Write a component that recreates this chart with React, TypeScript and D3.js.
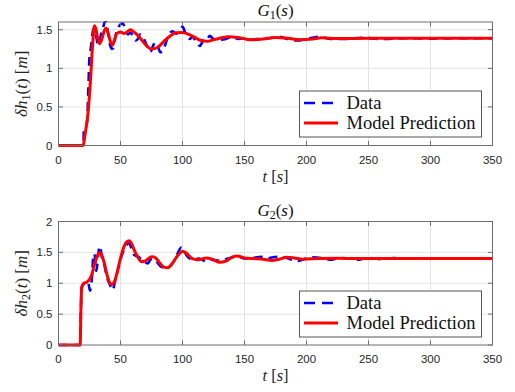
import React from "react";
import * as d3 from "d3";

// ---- Step response data, panel 1: G1(s) ----
const g1DataT = [0, 20, 20.5, 22, 23, 24, 25, 26, 27, 28, 29, 30, 31, 32, 33, 34, 36, 38, 39, 40, 41, 42, 43, 44, 45, 46, 48, 50, 52, 54, 56, 58, 60, 62, 64, 66, 68, 70, 72, 74, 76, 78, 80, 82, 84, 86, 88, 90, 92, 95, 98, 100, 102, 104, 106, 108, 110, 112, 114, 116, 118, 120, 122, 125, 130, 135, 140, 145, 150, 155, 160, 170, 178, 185, 192, 200, 210, 220, 230, 245, 260, 280, 300, 320, 350];
const g1DataV = [0, 0, 0.2, 0.24, 0.3, 0.7, 1.15, 1.25, 1.4, 1.5, 1.52, 1.45, 1.36, 1.3, 1.33, 1.42, 1.53, 1.62, 1.56, 1.45, 1.35, 1.28, 1.25, 1.26, 1.33, 1.42, 1.52, 1.57, 1.58, 1.5, 1.44, 1.46, 1.42, 1.36, 1.38, 1.44, 1.41, 1.34, 1.27, 1.21, 1.28, 1.34, 1.3, 1.21, 1.22, 1.3, 1.4, 1.46, 1.48, 1.45, 1.5, 1.54, 1.47, 1.41, 1.38, 1.41, 1.37, 1.32, 1.29, 1.34, 1.39, 1.38, 1.42, 1.38, 1.37, 1.38, 1.41, 1.38, 1.39, 1.37, 1.38, 1.39, 1.41, 1.38, 1.36, 1.38, 1.41, 1.38, 1.38, 1.395, 1.38, 1.39, 1.385, 1.39, 1.39];
const g1ModelT = [0, 20, 21, 22, 24, 26, 27.5, 29, 30, 31.5, 33, 35, 37, 38.5, 40, 42, 43.5, 45, 47, 50, 53, 56, 58, 60, 65, 70, 75, 80, 85, 90, 95, 100, 105, 110, 115, 120, 125, 130, 137, 145, 155, 165, 175, 185, 195, 205, 212, 225, 250, 300, 350];
const g1ModelV = [0, 0, 0.1, 0.2, 0.45, 0.9, 1.3, 1.55, 1.52, 1.4, 1.32, 1.38, 1.49, 1.52, 1.46, 1.34, 1.3, 1.36, 1.45, 1.47, 1.45, 1.48, 1.5, 1.48, 1.41, 1.31, 1.25, 1.27, 1.35, 1.42, 1.46, 1.465, 1.44, 1.4, 1.36, 1.35, 1.37, 1.39, 1.41, 1.4, 1.37, 1.38, 1.4, 1.39, 1.37, 1.38, 1.395, 1.385, 1.39, 1.39, 1.39];

// ---- Step response data, panel 2: G2(s) ----
const g2DataT = [0, 17.5, 18, 18.7, 20, 22, 24, 25.5, 27, 28, 29, 30.5, 32, 33, 34, 35, 37, 39, 41, 42.5, 44, 45, 47, 49, 51, 53, 55, 57, 59, 61, 63, 65, 67, 70, 72, 74, 76, 78, 80, 82, 84, 87, 90, 93, 96, 99, 101, 103, 106, 109, 113, 116, 119, 123, 127, 131, 135, 140, 144, 148, 152, 160, 165, 170, 176, 182, 188, 193, 198, 205, 212, 220, 227, 235, 240, 250, 260, 270, 280, 300, 320, 350];
const g2DataV = [0, 0, 0.5, 0.93, 0.98, 1.02, 1.0, 0.88, 1.1, 1.42, 1.48, 1.2, 1.45, 1.6, 1.55, 1.42, 1.3, 1.1, 1.0, 0.93, 0.89, 0.98, 1.15, 1.3, 1.45, 1.55, 1.62, 1.65, 1.55, 1.46, 1.44, 1.42, 1.38, 1.34, 1.32, 1.38, 1.4, 1.38, 1.33, 1.28, 1.26, 1.24, 1.28, 1.35, 1.48, 1.58, 1.55, 1.46, 1.4, 1.38, 1.4, 1.38, 1.35, 1.38, 1.37, 1.36, 1.39, 1.42, 1.45, 1.41, 1.4, 1.42, 1.43, 1.41, 1.43, 1.42, 1.38, 1.36, 1.39, 1.42, 1.41, 1.38, 1.41, 1.4, 1.38, 1.41, 1.39, 1.41, 1.4, 1.4, 1.4, 1.4];
const g2ModelT = [0, 17.5, 18, 18.7, 20, 23, 25, 27, 29, 31, 33, 35, 37, 39, 41, 43, 45, 47, 49, 51, 53, 55, 57, 59, 61, 64, 67, 70, 73, 76, 79, 82, 85, 88, 91, 94, 97, 100, 103, 106, 109, 113, 119, 124, 130, 135, 140, 144, 150, 157, 165, 172, 178, 184, 190, 197, 210, 225, 240, 270, 350];
const g2ModelV = [0, 0, 0.5, 0.93, 0.99, 1.02, 1.06, 1.15, 1.3, 1.43, 1.5, 1.45, 1.32, 1.15, 1.02, 0.98, 1.02, 1.15, 1.32, 1.48, 1.6, 1.67, 1.69, 1.64, 1.54, 1.42, 1.35, 1.36, 1.41, 1.43, 1.4, 1.32, 1.26, 1.25, 1.3, 1.39, 1.47, 1.52, 1.49, 1.43, 1.39, 1.38, 1.41, 1.39, 1.34, 1.36, 1.42, 1.44, 1.41, 1.4, 1.39, 1.37, 1.39, 1.42, 1.41, 1.39, 1.4, 1.405, 1.4, 1.4, 1.4];

const xTicks = [0, 50, 100, 150, 200, 250, 300, 350];
const g1YTicks = [0, 0.5, 1, 1.5];
const g2YTicks = [0, 0.5, 1, 1.5, 2];
const legendLabels = ["Data", "Model Prediction"];

const W = 515;
const H = 392;
const LEFT = 58.5;
const RIGHT = 492.5;

const sans = "'Liberation Sans', Arial, sans-serif";
const serif = "'Liberation Serif', 'Times New Roman', serif";

type PanelProps = {
  id: string;
  top: number;
  bottom: number;
  yMax: number;
  yTicks: number[];
  dataT: number[];
  dataV: number[];
  modelT: number[];
  modelV: number[];
  sub: string;
  legendTop: number;
};

function Panel(p: PanelProps) {
  const x = d3.scaleLinear().domain([0, 350]).range([LEFT, RIGHT]);
  const y = d3.scaleLinear().domain([0, p.yMax]).range([p.bottom, p.top]);
  const line = d3
    .line<[number, number]>()
    .x((d) => x(d[0]))
    .y((d) => y(d[1]))
    .curve(d3.curveMonotoneX);
  const dataPts = p.dataT.map((t, i) => [t, p.dataV[i]] as [number, number]);
  const modelPts = p.modelT.map((t, i) => [t, p.modelV[i]] as [number, number]);
  const axisColor = "#6e6e6e";
  const tickLen = 4.5;
  const midX = (LEFT + RIGHT) / 2;
  const midY = (p.top + p.bottom) / 2;
  const lgL = 299.5;
  const lgR = 481.5;
  const lgB = p.legendTop + 46;

  return (
    <g>
      <defs>
        <clipPath id={`clip-${p.id}`}>
          <rect x={LEFT} y={p.top - 1} width={RIGHT - LEFT} height={p.bottom - p.top + 3} />
        </clipPath>
      </defs>
      <rect x={LEFT} y={p.top} width={RIGHT - LEFT} height={p.bottom - p.top} fill="#fff" />
      {/* grid */}
      {xTicks.slice(1, -1).map((t) => (
        <line key={`gx${t}`} x1={x(t)} x2={x(t)} y1={p.top} y2={p.bottom} stroke="#e3e3e3" strokeWidth={1} />
      ))}
      {p.yTicks.slice(1).map((v) => (
        <line key={`gy${v}`} x1={LEFT} x2={RIGHT} y1={y(v)} y2={y(v)} stroke="#e3e3e3" strokeWidth={1} />
      ))}
      {/* series */}
      <g clipPath={`url(#clip-${p.id})`}>
        <path d={line(dataPts) || ""} fill="none" stroke="#0000ff" strokeWidth={2.6} strokeDasharray="9,6" />
        <path d={line(modelPts) || ""} fill="none" stroke="#ff0000" strokeWidth={3} strokeLinejoin="round" />
      </g>
      {/* box */}
      <rect x={LEFT} y={p.top} width={RIGHT - LEFT} height={p.bottom - p.top} fill="none" stroke={axisColor} strokeWidth={1} />
      {/* ticks */}
      {xTicks.map((t) => (
        <g key={`tx${t}`}>
          <line x1={x(t)} x2={x(t)} y1={p.bottom} y2={p.bottom - tickLen} stroke={axisColor} />
          <line x1={x(t)} x2={x(t)} y1={p.top} y2={p.top + tickLen} stroke={axisColor} />
          <text x={x(t)} y={p.bottom + 18} fontFamily={sans} fontSize={11.5} fill="#262626" textAnchor="middle">
            {t}
          </text>
        </g>
      ))}
      {p.yTicks.map((v) => (
        <g key={`ty${v}`}>
          <line x1={LEFT} x2={LEFT + tickLen} y1={y(v)} y2={y(v)} stroke={axisColor} />
          <line x1={RIGHT} x2={RIGHT - tickLen} y1={y(v)} y2={y(v)} stroke={axisColor} />
          <text x={LEFT - 6} y={y(v) + 4} fontFamily={sans} fontSize={11.5} fill="#262626" textAnchor="end">
            {v}
          </text>
        </g>
      ))}
      {/* title */}
      <text x={midX} y={p.top - 6} fontFamily={serif} fontSize={17} fill="#111" textAnchor="middle">
        <tspan fontStyle="italic">G</tspan>
        <tspan fontSize={12} dy={3}>{p.sub}</tspan>
        <tspan dy={-3}>(</tspan>
        <tspan fontStyle="italic">s</tspan>
        <tspan>)</tspan>
      </text>
      {/* x label */}
      <text x={midX} y={p.bottom + 36} fontFamily={serif} fontSize={16.5} fill="#262626" textAnchor="middle">
        <tspan fontStyle="italic">t</tspan>
        <tspan> [</tspan>
        <tspan fontStyle="italic">s</tspan>
        <tspan>]</tspan>
      </text>
      {/* y label */}
      <text
        transform={`translate(27,${midY}) rotate(-90)`}
        fontFamily={serif}
        fontSize={17}
        fill="#262626"
        textAnchor="middle"
      >
        <tspan fontStyle="italic">δh</tspan>
        <tspan fontSize={12} dy={3}>{p.sub}</tspan>
        <tspan dy={-3}>(</tspan>
        <tspan fontStyle="italic">t</tspan>
        <tspan>) [</tspan>
        <tspan fontStyle="italic">m</tspan>
        <tspan>]</tspan>
      </text>
      {/* legend */}
      <rect x={lgL} y={p.legendTop} width={lgR - lgL} height={lgB - p.legendTop} fill="#fff" stroke="#555" strokeWidth={1} />
      <line x1={304} x2={335} y1={p.legendTop + 12} y2={p.legendTop + 12} stroke="#0000ff" strokeWidth={2.6} strokeDasharray="11,7" />
      <line x1={304} x2={338} y1={p.legendTop + 32} y2={p.legendTop + 32} stroke="#ff0000" strokeWidth={3} />
      {legendLabels.map((l, i) => (
        <text key={l} x={346.5} y={p.legendTop + 17.5 + i * 20} fontFamily={serif} fontSize={18.5} fill="#111">
          {l}
        </text>
      ))}
    </g>
  );
}

export default function App() {
  return (
    <svg
      width={W}
      height={H}
      viewBox={`0 0 ${W} ${H}`}
      style={{ position: "absolute", left: 0, top: 0, background: "#fff" }}
    >
      <rect width={W} height={H} fill="#fff" />
      <Panel
        id="g1"
        top={22}
        bottom={145.5}
        yMax={1.6}
        yTicks={g1YTicks}
        dataT={g1DataT}
        dataV={g1DataV}
        modelT={g1ModelT}
        modelV={g1ModelV}
        sub="1"
        legendTop={91}
      />
      <Panel
        id="g2"
        top={221.5}
        bottom={345}
        yMax={2}
        yTicks={g2YTicks}
        dataT={g2DataT}
        dataV={g2DataV}
        modelT={g2ModelT}
        modelV={g2ModelV}
        sub="2"
        legendTop={291}
      />
    </svg>
  );
}
